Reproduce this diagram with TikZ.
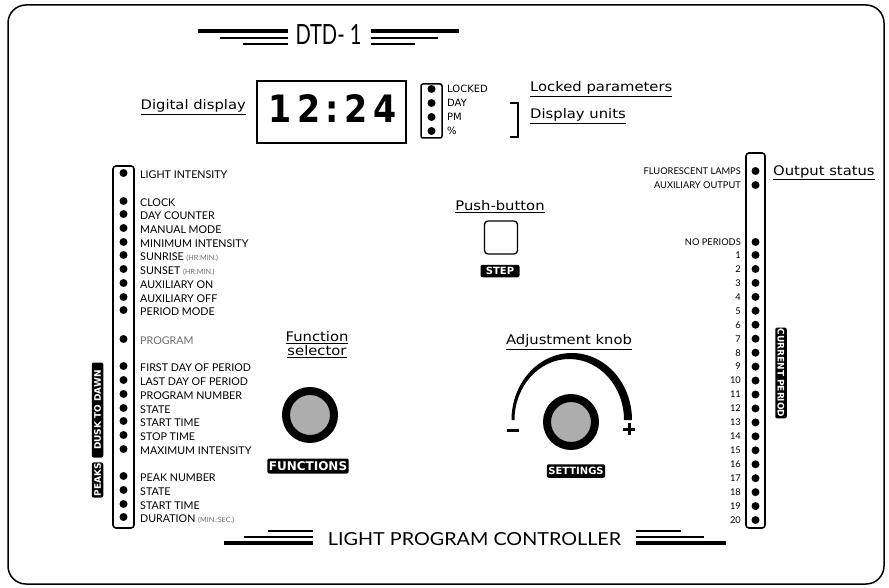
\documentclass[tikz,border=0pt]{standalone}
\usepackage{fontspec}
\setmainfont{Lato}
\newfontfamily\lblfont{DejaVu Sans}
\usepackage{graphicx}
\definecolor{knobgray}{gray}{0.68}
\definecolor{txtgray}{gray}{0.42}
\newcommand{\grysmall}[1]{{\color{txtgray}\fontsize{7.2}{8}\selectfont #1}}
\newcommand{\ulab}[1]{\scalebox{1.12}[1]{\underline{#1}}}
\tikzset{
  item/.style={anchor=west, inner sep=0pt, font=\fontsize{10.7}{11}\selectfont, text height=7.6pt, text depth=0pt},
  ritem/.style={anchor=east, inner sep=0pt, font=\fontsize{9.3}{10}\selectfont, text height=6.7pt, text depth=0pt},
  ldot/.style={circle, fill=black, inner sep=0pt, minimum size=8pt},
  panelbox/.style={draw, line width=1.6pt, rounded corners=3pt},
  tag/.style={fill=black, text=white, rounded corners=2pt, inner sep=1.5pt, font=\lblfont\bfseries\fontsize{10}{10}\selectfont},
  vtag/.style={tag, font=\lblfont\bfseries\fontsize{9}{9}\selectfont, minimum height=11.5pt, inner sep=1pt},
  ulabel/.style={inner sep=0pt, font=\lblfont\fontsize{13.2}{15}\selectfont},
  knob/.style={circle, draw, line width=8pt, fill=knobgray, minimum size=48pt, inner sep=0pt},
  ind/.style={anchor=west, inner sep=0pt, font=\lblfont\fontsize{10}{10}\selectfont, text height=7.2pt, text depth=0pt},
}
\begin{document}
\begin{tikzpicture}[x=1pt,y=1pt]
\useasboundingbox (0,0) rectangle (889,-588);
% outer frame
\draw[line width=1.5pt, rounded corners=18pt] (8,-5) rectangle (884,-584);

% title
\node[inner sep=0pt] (title) at (328.5,-35) {\resizebox{66pt}{20pt}{DTD- 1}};
\draw[line width=4pt] (198,-31) -- (288,-31);
\draw[line width=2.8pt] (220,-38) -- (288,-38);
\draw[line width=2pt] (243,-44.5) -- (288,-44.5);
\draw[line width=4pt] (371,-31) -- (459,-31);
\draw[line width=2.8pt] (371,-38) -- (438,-38);
\draw[line width=2pt] (371,-44.5) -- (415,-44.5);

% digital display
\node[draw, line width=1.3pt, minimum width=149pt, minimum height=62pt, inner sep=0pt] (disp) at (331.5,-112) {};
\node[inner sep=0pt] (digits) at (332.5,-109) {\resizebox{128pt}{28pt}{\lblfont\bfseries 1\,2\,:\,2\,4}};
\node[ulabel, anchor=east] (ldisp) at (246,-107) {\ulab{Digital display}};

% indicator column
\draw[line width=1.5pt, rounded corners=2pt] (421,-84) rectangle (442,-138);
\foreach \y/\t [count=\i] in {89/LOCKED, 103/DAY, 117/PM, 131/\%}{
  \node[ldot] (id\i) at (431.5,-\y) {};
  \node[ind] (it\i) at (447,-\y) {\t};
}
\draw[line width=2pt] (510,-103) -- (518,-103) -- (518,-137) -- (510,-137);
\node[ulabel, anchor=west] (llock) at (530,-89) {\ulab{Locked parameters}};
\node[ulabel, anchor=west] (lunits) at (530,-116) {\ulab{Display units}};

% left function list
\draw[panelbox] (113,-166) rectangle (134,-528);
\foreach \y/\t [count=\i] in {
  175/{LIGHT INTENSITY}, 203/{CLOCK}, 216/{DAY COUNTER}, 230/{MANUAL MODE},
  244/{MINIMUM INTENSITY}, 257/{SUNRISE \grysmall{(HR:MIN.)}}, 271/{SUNSET \grysmall{(HR:MIN.)}},
  285/{AUXILIARY ON}, 299/{AUXILIARY OFF}, 312/{PERIOD MODE}, 341/{\color{txtgray}PROGRAM},
  368/{FIRST DAY OF PERIOD}, 382/{LAST DAY OF PERIOD}, 396/{PROGRAM NUMBER}, 410/{STATE},
  423/{START TIME}, 437/{STOP TIME}, 451/{MAXIMUM INTENSITY},
  478/{PEAK NUMBER}, 492/{STATE}, 506/{START TIME}, 519/{DURATION \grysmall{(MIN.:SEC.)}}}{
  \node[ldot] (ld\i) at (123.5,{-\y+2}) {};
  \node[item] (lt\i) at (140,-\y) {\t};
}
\node[vtag, rotate=90, minimum width=95pt] (dusk) at (97.5,-410) {DUSK TO DAWN};
\node[vtag, rotate=90, minimum width=30pt] (peaks) at (97.5,-480) {PEAKS};

% right status list
\draw[panelbox] (746,-153) rectangle (765,-528);
\node[ldot] (ro1) at (755.5,-171) {};
\node[ritem] (rl1) at (741,-171) {FLUORESCENT LAMPS};
\node[ldot] (ro2) at (755.5,-185) {};
\node[ritem] (rl2) at (741,-185) {AUXILIARY OUTPUT};
\node[ldot] (rnp) at (755.5,-242) {};
\node[ritem] (rlnp) at (741,-242) {NO PERIODS};
\foreach \n in {1,...,20}{
  \pgfmathsetmacro\yy{255+(\n-1)*13.95}
  \node[ldot] (rn\n) at (755.5,-\yy) {};
  \node[ritem] (rt\n) at (741,-\yy) {\n};
}
\node[ulabel, anchor=west] (lout) at (773,-173) {\ulab{Output status}};
\node[vtag, rotate=-90, minimum width=83pt] (curp) at (781,-373) {CURRENT PERIOD};

% push button
\node[ulabel] (lpush) at (500,-207) {\ulab{Push-button}};
\node[draw, line width=1.3pt, rounded corners=3.5pt, minimum size=33pt, inner sep=0pt] (btn) at (501,-237.5) {};
\node[tag, minimum width=39pt, minimum height=12.5pt] (step) at (500,-271) {STEP};

% function selector
\node[ulabel, align=center] (lfunc) at (317,-345) {\ulab{Function}\\[-1pt]\ulab{selector}};
\node[knob] (fknob) at (310,-415) {};
\node[tag, font=\lblfont\bfseries\fontsize{12}{12}\selectfont, minimum height=15pt] (functions) at (308,-466) {FUNCTIONS};

% adjustment knob
\node[ulabel] (ladj) at (569,-342) {\ulab{Adjustment knob}};
\fill (511.5,-420) arc[start angle=180, end angle=0, x radius=60.25, y radius=67]
      -- (624,-420) arc[start angle=0, end angle=180, x radius=54.75, y radius=61] -- cycle;
\node[knob] (aknob) at (571,-422) {};
\draw[line width=3pt] (507,-430) -- (519,-430);
\draw[line width=3pt] (623,-429) -- (635,-429) (629,-423) -- (629,-435);
\node[tag, font=\lblfont\bfseries\fontsize{10}{10}\selectfont, minimum height=13.5pt] (settings) at (576,-471) {SETTINGS};

% bottom title
\node[inner sep=0pt] (btitle) at (474.5,-539.5) {\resizebox{293pt}{13pt}{LIGHT PROGRAM CONTROLLER}};
\draw[line width=3.5pt] (224,-543) -- (313,-543);
\draw[line width=2.5pt] (244,-537) -- (313,-537);
\draw[line width=2pt] (268,-531) -- (313,-531);
\draw[line width=3.5pt] (636,-543) -- (726,-543);
\draw[line width=2.5pt] (636,-537) -- (704,-537);
\draw[line width=2pt] (636,-531) -- (681,-531);
\end{tikzpicture}
\end{document}
